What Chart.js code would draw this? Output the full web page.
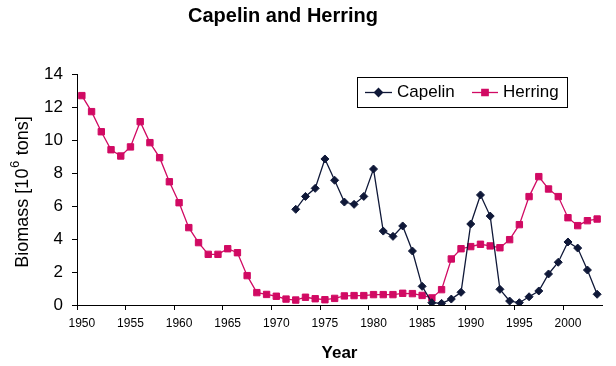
<!DOCTYPE html>
<html><head><meta charset="utf-8">
<script src="https://cdn.jsdelivr.net/npm/chart.js@4/dist/chart.umd.min.js"></script>
<style>html,body{margin:0;padding:0;background:#fff;}#wrap{width:616px;height:366px;}</style>
</head><body><div id="wrap"><canvas id="c" width="616" height="366"></canvas></div>
<script>
const years = [];
for (let y = 1950; y <= 2003; y++) years.push(String(y));
const capelin = [null,null,null,null,null,null,null,null,null,null,
  null,null,null,null,null,null,null,null,null,null,null,null,
  5.8,6.58,7.07,8.85,7.56,6.24,6.1,6.58,8.24,4.48,4.16,4.79,3.27,1.13,0.14,0.1,0.36,0.77,
  4.91,6.67,5.39,0.95,0.24,0.14,0.5,0.85,1.88,2.59,3.82,3.45,2.12,0.65];
const herring = [12.69,11.72,10.5,9.41,9.03,9.58,11.11,9.84,8.93,7.47,
  6.2,4.69,3.78,3.07,3.07,3.41,3.17,1.78,0.75,0.64,
  0.53,0.36,0.3,0.47,0.38,0.32,0.4,0.55,0.57,0.57,
  0.63,0.63,0.63,0.71,0.69,0.58,0.43,0.93,2.79,3.41,
  3.54,3.68,3.58,3.47,3.96,4.87,6.57,7.78,7.03,6.57,
  5.29,4.81,5.11,5.21];
const seriesNames = ['Capelin','Herring'];
const titleText = 'Capelin and Herring';
const xTitle = 'Year';
const yTitleParts = ['Biomass [10','6',' tons]'];

const FONT = "'Liberation Sans', Arial, sans-serif";
const C_CAP = '#0f1838';
const C_HER = '#d10a63';

const decor = {
  id: 'decor',
  afterDraw(chart) {
    const ctx = chart.ctx;
    const a = chart.chartArea;
    ctx.save();
    ctx.fillStyle = '#000';
    // title
    ctx.font = 'bold 20px ' + FONT;
    ctx.textAlign = 'center';
    ctx.textBaseline = 'alphabetic';
    ctx.fillText(titleText, 283, 22);
    // x title
    ctx.font = 'bold 17px ' + FONT;
    ctx.fillText(xTitle, (a.left + a.right) / 2, 358);
    // y title with superscript
    ctx.save();
    ctx.translate(28, (a.top + a.bottom) / 2 + 3);
    ctx.rotate(-Math.PI / 2);
    const f1 = '18px ' + FONT, f2 = '13px ' + FONT;
    ctx.font = f1; const w1 = ctx.measureText(yTitleParts[0]).width; const w3 = ctx.measureText(yTitleParts[2]).width;
    ctx.font = f2; const w2 = ctx.measureText(yTitleParts[1]).width;
    let x = -(w1 + w2 + w3) / 2;
    ctx.textAlign = 'left';
    ctx.font = f1; ctx.fillText(yTitleParts[0], x, 0); x += w1;
    ctx.font = f2; ctx.fillText(yTitleParts[1], x + 0.5, -9); x += w2 + 1;
    ctx.font = f1; ctx.fillText(yTitleParts[2], x, 0);
    ctx.restore();
    // legend
    ctx.strokeStyle = '#000';
    ctx.lineWidth = 1;
    ctx.strokeRect(357.5, 77.5, 210, 30);
    const ly = 92.5;
    const items = [
      {x0: 365, x1: 392, tx: 397, color: C_CAP, style: 'rectRot', r: 4, name: seriesNames[0]},
      {x0: 472, x1: 498, tx: 503, color: C_HER, style: 'rect', r: 4.5, name: seriesNames[1]}
    ];
    items.forEach(it => {
      ctx.strokeStyle = it.color; ctx.fillStyle = it.color; ctx.lineWidth = 1.3;
      ctx.beginPath(); ctx.moveTo(it.x0, ly); ctx.lineTo(it.x1, ly); ctx.stroke();
      Chart.helpers.drawPoint(ctx, {pointStyle: it.style, radius: it.r, rotation: 0, borderWidth: 1}, (it.x0 + it.x1) / 2, ly);
      ctx.fillStyle = '#000';
      ctx.font = '17px ' + FONT;
      ctx.textAlign = 'left';
      ctx.textBaseline = 'middle';
      ctx.fillText(it.name, it.tx, ly);
    });
    ctx.restore();
  }
};

new Chart(document.getElementById('c'), {
  type: 'line',
  data: {
    labels: years,
    datasets: [
      {label: seriesNames[0], data: capelin, borderColor: C_CAP, backgroundColor: C_CAP,
       borderWidth: 1.3, pointStyle: 'rectRot', pointRadius: 4, pointBorderWidth: 1, tension: 0, spanGaps: false},
      {label: seriesNames[1], data: herring, borderColor: C_HER, backgroundColor: C_HER,
       borderWidth: 1.3, pointStyle: 'rect', pointRadius: 4.5, pointBorderWidth: 1, tension: 0}
    ]
  },
  options: {
    responsive: false,
    animation: false,
    layout: {padding: {top: 74, right: 14, left: 0, bottom: 0}},
    plugins: {legend: {display: false}, title: {display: false}, tooltip: {enabled: false}},
    scales: {
      x: {
        type: 'category',
        offset: true,
        border: {color: '#000', width: 1},
        grid: {
          offset: true, drawOnChartArea: false, drawTicks: true, tickLength: 5,
          color: (c) => (c.index % 5 === 0 && c.index < 54) ? '#000' : 'rgba(0,0,0,0)'
        },
        ticks: {
          autoSkip: false, maxRotation: 0, minRotation: 0, padding: 6, color: '#000',
          font: {family: FONT, size: 12},
          callback: function(v, i) { return i % 5 === 0 ? this.getLabelForValue(v) : ''; }
        },
        afterFit: (s) => { s.height = 61; }
      },
      y: {
        min: 0, max: 14,
        border: {color: '#000', width: 1},
        grid: {drawOnChartArea: false, drawTicks: true, tickLength: 5, color: '#000'},
        ticks: {stepSize: 2, padding: 9, color: '#000', font: {family: FONT, size: 17}},
        afterFit: (s) => { s.width = 77; }
      }
    }
  },
  plugins: [decor]
});
</script>
</body></html>
